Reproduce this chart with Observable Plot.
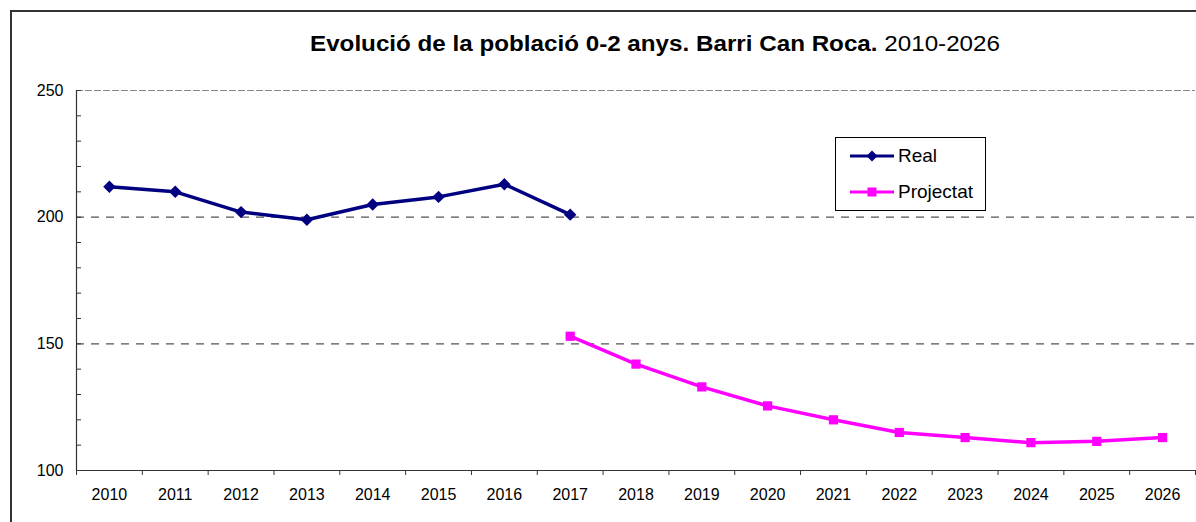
<!DOCTYPE html>
<html>
<head>
<meta charset="utf-8">
<script src="https://cdn.jsdelivr.net/npm/d3@7"></script>
<script src="https://cdn.jsdelivr.net/npm/@observablehq/plot@0.6"></script>
<style>
  html, body { margin: 0; padding: 0; background: #fff; overflow: hidden; }
  #wrap { position: relative; width: 1196px; height: 522px; overflow: hidden; font-family: "Liberation Sans", Arial, sans-serif; }
  #frame { position: absolute; left: 10px; top: 10px; width: 1300px; height: 700px; border-left: 2px solid #333; border-top: 2px solid #333; }
  #title { position: absolute; left: 655px; top: 31px; transform: translateX(-50%) scaleX(1.1); white-space: nowrap; font-size: 22px; color: #000; }
  #chart { position: absolute; left: 0; top: 0; }
  #legend { position: absolute; left: 835px; top: 137px; width: 149px; height: 72px; border: 1px solid #000; background: #fff; font-size: 19px; }
  .item { position: absolute; left: 14px; height: 22px; display: flex; align-items: center; }
  .item span { margin-left: 4px; }
</style>
</head>
<body>
<div id="wrap">
  <div id="frame"></div>
  <div id="chart"></div>
  <div id="title"><b>Evolució de la població 0-2 anys. Barri Can Roca.</b> 2010-2026</div>
  <div id="legend">
    <div class="item" style="top:7px"><svg width="44" height="14"><line x1="0" y1="7" x2="44" y2="7" stroke="#000080" stroke-width="3"/><path d="M22,1.5 L27.5,7 L22,12.5 L16.5,7 Z" fill="#000080"/></svg><span>Real</span></div>
    <div class="item" style="top:43px"><svg width="44" height="14"><line x1="0" y1="7" x2="44" y2="7" stroke="#FF00FF" stroke-width="3"/><rect x="17.5" y="2.5" width="9" height="9" fill="#FF00FF"/></svg><span>Projectat</span></div>
  </div>
</div>
<script>
const realYears = [2010, 2011, 2012, 2013, 2014, 2015, 2016, 2017];
const realValues = [212, 210, 202, 199, 205, 208, 213, 201];
const projYears = [2017, 2018, 2019, 2020, 2021, 2022, 2023, 2024, 2025, 2026];
const projValues = [153, 142, 133, 125.5, 120, 115, 113, 111, 111.5, 113];
const xTickLabels = d3.range(2010, 2027);
const yTickLabels = [100, 150, 200, 250];
const yMinorTicks = d3.range(100, 251, 10);

const real = realYears.map((year, i) => ({year, value: realValues[i]}));
const proj = projYears.map((year, i) => ({year, value: projValues[i]}));
const bandEdges = d3.range(2009.5, 2027, 1);

const chart = Plot.plot({
  width: 1196,
  height: 522,
  marginLeft: 76,
  marginRight: 1,
  marginTop: 90,
  marginBottom: 52,
  style: { fontFamily: "Liberation Sans, Arial, sans-serif", fontSize: "16px", color: "#000", background: "transparent", overflow: "visible" },
  x: { type: "linear", domain: [2009.5, 2026.5] },
  y: { domain: [100, 250] },
  marks: [
    Plot.ruleY([150, 200], { stroke: "#555", strokeWidth: 1.2, strokeDasharray: "8,7" }),
    Plot.ruleY([250], { stroke: "#888", strokeWidth: 1.2, strokeDasharray: "7,2" }),
    Plot.ruleY([100], { stroke: "#333", strokeWidth: 1.2 }),
    Plot.ruleX([2009.5], { stroke: "#333", strokeWidth: 1.2 }),
    Plot.axisY({ ticks: yTickLabels, tickSize: 0, tickPadding: 13, fontSize: 16, label: null }),
    Plot.axisY({ ticks: yMinorTicks, tickSize: -5, tickFormat: () => "", label: null, stroke: "#333" }),
    Plot.axisX({ ticks: xTickLabels, tickSize: 0, tickPadding: 18, tickFormat: d => String(d), fontSize: 16, label: null }),
    Plot.axisX({ ticks: bandEdges, tickSize: 5, tickFormat: () => "", label: null, stroke: "#333" }),
    Plot.line(real, { x: "year", y: "value", stroke: "#000080", strokeWidth: 3.5 }),
    Plot.dot(real, { x: "year", y: "value", symbol: "diamond2", r: 5.6, fill: "#000080" }),
    Plot.line(proj, { x: "year", y: "value", stroke: "#FF00FF", strokeWidth: 3.5 }),
    Plot.dot(proj, { x: "year", y: "value", symbol: "square", r: 5.2, fill: "#FF00FF" })
  ]
});
document.getElementById("chart").appendChild(chart);
</script>
</body>
</html>
